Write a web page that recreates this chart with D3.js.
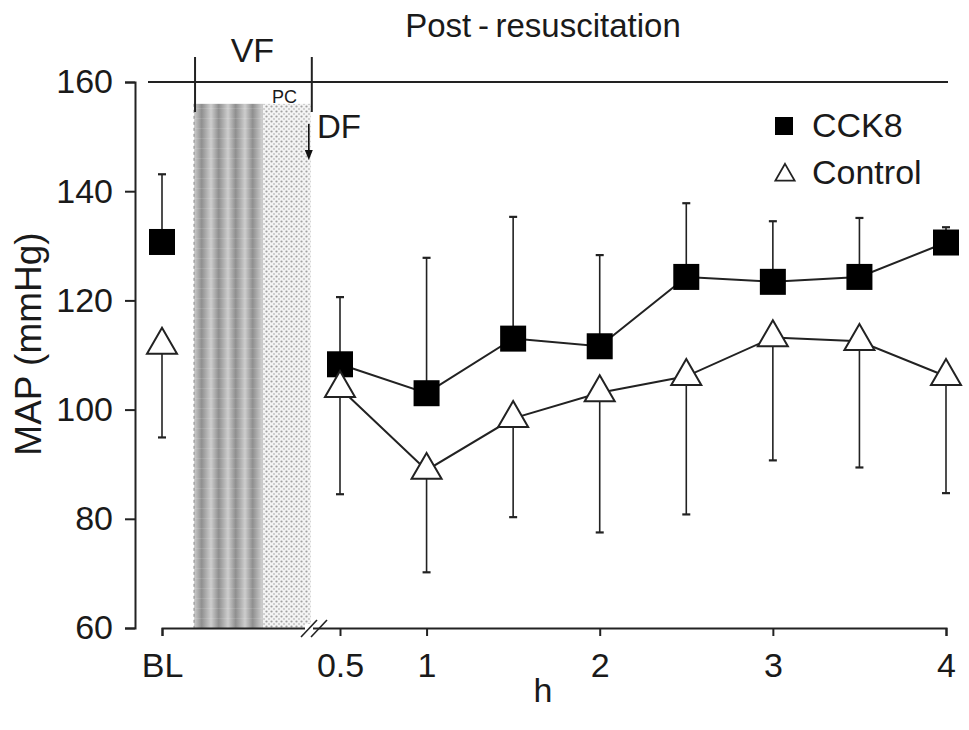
<!DOCTYPE html>
<html>
<head>
	<title>MAP</title>
	<script src="https://d3js.org/d3.v7.min.js"></script>
	<style type="text/css">
		body{ margin: 0; background: #fff; }
		text{ font-family: "Liberation Sans", Arial, sans-serif; fill: #1a1a1a; }
	</style>
</head>
<body>
<script type="text/javascript">
	// time points, BL is coded as 0 on the x scale
	var times = [0, 0.5, 1, 1.5, 2, 2.5, 3, 3.5, 4]
	var tickVals = [0, 0.5, 1, 2, 3, 4]
	var tickLabels = ["BL", "0.5", "1", "2", "3", "4"]
	var yTicks = [60, 80, 100, 120, 140, 160]

	var cck8Mean = [130.7, 108.3, 103.0, 113.0, 111.6, 124.3, 123.4, 124.3, 130.6]
	var cck8SD   = [12.4, 12.3, 24.8, 22.3, 16.7, 13.5, 11.1, 10.8, 2.8]
	var ctrlMean = [111.8, 103.9, 88.9, 98.4, 103.1, 106.1, 113.2, 112.5, 106.1]
	var ctrlSD   = [16.9, 19.4, 18.7, 18.1, 25.6, 25.3, 22.5, 23.1, 21.4]

	// event markers (in x-scale units, between BL and 0.5)
	var vfStart = 0.09, pcStart = 0.284, dfTime = 0.418, breakAt = 0.427

	var W = 969, H = 730
	var svg = d3.select("body").append("svg").attr('width', W).attr('height', H)

	var x = d3.scaleLinear().domain([0, 0.5, 4]).range([162, 340, 946])
	var y = d3.scaleLinear().domain([60, 160]).range([628, 82])

	var defs = svg.append('defs')
	// gray vertical bands for VF
	var grad = defs.append('linearGradient').attr('id','band').attr('x1','0').attr('x2','1').attr('y1','0').attr('y2','0')
	grad.append('stop').attr('offset','0%').attr('stop-color','#cdcdcd')
	grad.append('stop').attr('offset','45%').attr('stop-color','#8f8f8f')
	grad.append('stop').attr('offset','100%').attr('stop-color','#cdcdcd')
	var stripes = defs.append('pattern').attr('id','stripes').attr('patternUnits','userSpaceOnUse')
		.attr('x', x(vfStart)).attr('width', 17).attr('height', 10)
	stripes.append('rect').attr('width',17).attr('height',10).attr('fill','url(#band)')
	stripes.append('rect').attr('y',8).attr('width',17).attr('height',1).attr('fill','#fff').attr('opacity',0.12)
	// dots for PC
	var dots = defs.append('pattern').attr('id','dots').attr('patternUnits','userSpaceOnUse').attr('width',5).attr('height',5)
	dots.append('rect').attr('width',5).attr('height',5).attr('fill','#f4f4f4')
	dots.append('circle').attr('cx',1.5).attr('cy',1.5).attr('r',1.1).attr('fill','#a0a0a0')
	dots.append('circle').attr('cx',4).attr('cy',4).attr('r',0.9).attr('fill','#bdbdbd')

	var shadeTop = y(156)
	svg.append('rect').attr('x', x(vfStart)).attr('y', shadeTop)
		.attr('width', x(pcStart)-x(vfStart)).attr('height', y(60)-shadeTop).attr('fill','url(#stripes)')
	svg.append('rect').attr('x', x(pcStart)).attr('y', shadeTop)
		.attr('width', x(dfTime)-x(pcStart)).attr('height', y(60)-shadeTop).attr('fill','url(#dots)')
	svg.append('line').attr('x1', x(vfStart)).attr('x2', x(vfStart)).attr('y1', shadeTop).attr('y2', y(60))
		.attr('stroke','#888').attr('stroke-dasharray','3,3')

	// axes
	var yAxis = svg.append('g').attr('transform','translate(135,0)')
		.call(d3.axisLeft(y).tickValues(yTicks).tickSize(10).tickPadding(12))
	var xAxis = svg.append('g').attr('transform','translate(0,628)')
		.call(d3.axisBottom(x).tickValues(tickVals).tickSize(8).tickPadding(17)
			.tickFormat(function(d,i){ return tickLabels[i] }))
	svg.selectAll('.domain, .tick line').attr('stroke','#222').attr('stroke-width',2)
	svg.selectAll('.tick text').style('font-size','34px').style('font-family','"Liberation Sans", Arial, sans-serif').attr('fill','#1a1a1a')

	// axis break
	var bx = x(breakAt)
	svg.append('rect').attr('x', bx-9).attr('y', 624).attr('width', 8).attr('height', 8).attr('fill','#fff')
	;[-13, -3].forEach(function(o){
		svg.append('line').attr('x1', bx+o).attr('y1', 637).attr('x2', bx+o+16).attr('y2', 620)
			.attr('stroke','#222').attr('stroke-width',1.6)
	})

	// top line and VF bracket
	svg.append('line').attr('x1',148).attr('x2',948).attr('y1',y(160)).attr('y2',y(160)).attr('stroke','#222').attr('stroke-width',2)
	;[vfStart, dfTime].forEach(function(t){
		svg.append('line').attr('x1',x(t)+1).attr('x2',x(t)+1).attr('y1',57).attr('y2',112).attr('stroke','#222').attr('stroke-width',2)
	})
	svg.append('text').attr('x', (x(vfStart)+x(dfTime))/2).attr('y', 62).attr('text-anchor','middle').style('font-size','34px').text('VF')
	svg.append('text').attr('x', x(pcStart)+9).attr('y', 103).style('font-size','18px').text('PC')
	svg.append('text').attr('x', 317).attr('y', 138).style('font-size','33px').text('DF')
	svg.append('text').attr('x', 543).attr('y', 37).attr('text-anchor','middle').style('font-size','33px').text('Post\u2009-\u2009resuscitation')

	// DF arrow
	var ax = x(dfTime)-2
	svg.append('line').attr('x1',ax).attr('x2',ax).attr('y1',124).attr('y2',152).attr('stroke','#111').attr('stroke-width',1.6)
	svg.append('path').attr('d', d3.line()([[ax-4,150],[ax+4,150],[ax,160]])).attr('fill','#111')

	// axis titles
	svg.append('text').attr('transform','translate(41,344) rotate(-90)').attr('text-anchor','middle')
		.style('font-size','37px').text('MAP (mmHg)')
	svg.append('text').attr('x',543).attr('y',702).attr('text-anchor','middle').style('font-size','34px').text('h')

	// error bars
	function errBars(mean, sd, dir){
		var g = svg.append('g').attr('stroke','#222')
		times.forEach(function(t,i){
			var end = mean[i] + dir*sd[i]
			g.append('line').attr('x1',x(t)).attr('x2',x(t)).attr('y1',y(mean[i])).attr('y2',y(end)).attr('stroke-width',1.6)
			g.append('line').attr('x1',x(t)-4).attr('x2',x(t)+4).attr('y1',y(end)).attr('y2',y(end)).attr('stroke-width',2.2)
		})
	}
	errBars(cck8Mean, cck8SD, 1)
	errBars(ctrlMean, ctrlSD, -1)

	// series lines (BL not connected)
	var line = d3.line().x(function(d){ return x(d[0]) }).y(function(d){ return y(d[1]) })
	function post(mean){ return times.map(function(t,i){ return [t, mean[i]] }).slice(1) }
	svg.append('path').attr('d', line(post(cck8Mean))).attr('fill','none').attr('stroke','#222').attr('stroke-width',2)
	svg.append('path').attr('d', line(post(ctrlMean))).attr('fill','none').attr('stroke','#222').attr('stroke-width',2)

	// markers
	var sq = 26
	svg.selectAll('.sq').data(times).enter().append('rect').attr('class','sq')
		.attr('x', function(d){ return x(d)-sq/2 }).attr('y', function(d,i){ return y(cck8Mean[i])-sq/2 })
		.attr('width', sq).attr('height', sq).attr('fill','#000')
	var tri = d3.symbol().type(d3.symbolTriangle).size(390)
	svg.selectAll('.tri').data(times).enter().append('path').attr('class','tri')
		.attr('d', tri).attr('transform', function(d,i){ return 'translate('+x(d)+','+y(ctrlMean[i])+')' })
		.attr('fill','#fff').attr('stroke','#222').attr('stroke-width',2)

	// legend
	svg.append('rect').attr('x',775).attr('y',117).attr('width',18).attr('height',18).attr('fill','#000')
	svg.append('path').attr('d', d3.symbol().type(d3.symbolTriangle).size(160)).attr('transform','translate(785,175)')
		.attr('fill','#fff').attr('stroke','#222').attr('stroke-width',1.8)
	svg.append('text').attr('x',812).attr('y',137).style('font-size','34px').text('CCK8')
	svg.append('text').attr('x',812).attr('y',184).style('font-size','34px').text('Control')
</script>
</body>
</html>
